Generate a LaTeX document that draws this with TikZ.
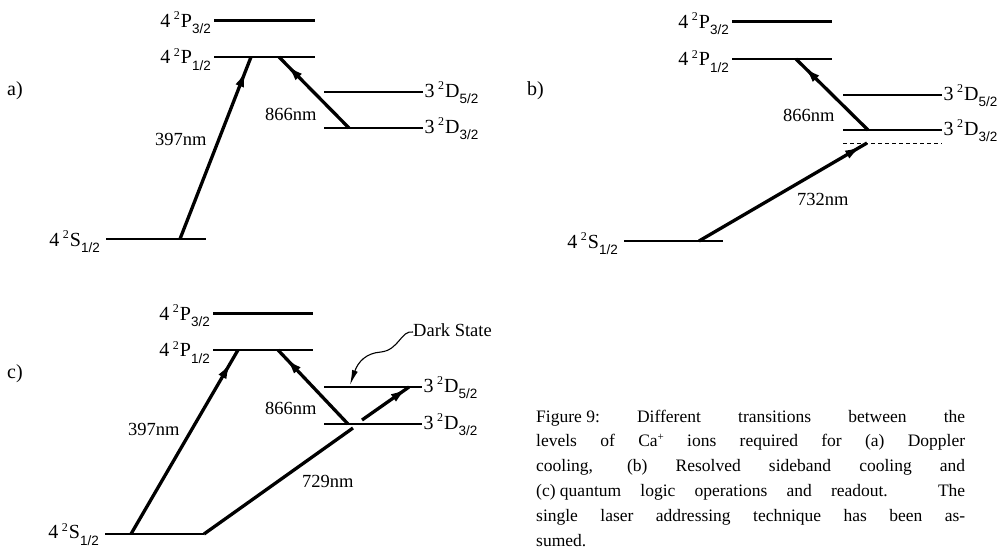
\documentclass[tikz,border=0pt]{standalone}
\usepackage{fontspec}
\setmainfont{Liberation Serif}
\newfontfamily\subfont{Liberation Sans}
\usetikzlibrary{arrows.meta,decorations.markings}
\newcommand\levlab[3]{{\fontsize{20}{20}\selectfont #1}\hspace{3.5pt}\raisebox{7.5pt}{\fontsize{12}{12}\selectfont 2}\hspace{1pt}{\fontsize{20}{20}\selectfont #2}\raisebox{-6.5pt}{\subfont\fontsize{13.5}{13.5}\selectfont #3}}
\begin{document}
\begin{tikzpicture}[x=1pt,y=-1pt,
  level/.style={line width=2.5pt},
  beam/.style={line width=3.3pt},
  tipped/.style={beam, postaction={decorate},
    decoration={markings, mark=at position #1 with {\arrow{Latex[length=17pt,width=9pt]}}}},
  tipped/.default=-10pt,
  lab/.style={inner sep=0pt, font=\fontsize{18.5}{18.5}\selectfont},
  plab/.style={lab, anchor=base east},
  dlab/.style={lab, anchor=base west},
  wlab/.style={lab, anchor=base west},
  letlab/.style={inner sep=0pt, anchor=base west, font=\fontsize{20}{20}\selectfont},
  dashlevel/.style={line width=1pt, dash pattern=on 4pt off 3pt}
]
\useasboundingbox (0,0) rectangle (1002,549);

% ---------------- panel a ----------------
\node[letlab] (alet) at (7,95) {a)};
\coordinate (aP3l) at (214,20.5); \coordinate (aP3r) at (315,20.5);
\coordinate (aP1l) at (214,57);   \coordinate (aP1r) at (315,57);
\coordinate (aD5l) at (324,92);   \coordinate (aD5r) at (423,92);
\coordinate (aD3l) at (324,128);  \coordinate (aD3r) at (423,128);
\coordinate (aSl)  at (106,239);  \coordinate (aSr)  at (206,239);
\draw[level] (aP3l) -- (aP3r);
\draw[level] (aP1l) -- (aP1r);
\draw[level] (aD5l) -- (aD5r);
\draw[level] (aD3l) -- (aD3r);
\draw[level] (aSl) -- (aSr);
\node[plab] (aP3t) at (211,27) {\levlab{4}{P}{3/2}};
\node[plab] (aP1t) at (211,63.5) {\levlab{4}{P}{1/2}};
\node[dlab] (aD5t) at (424.5,97) {\levlab{3}{D}{5/2}};
\node[dlab] (aD3t) at (424.5,133) {\levlab{3}{D}{3/2}};
\node[plab] (aSt) at (100,246) {\levlab{4}{S}{1/2}};
\coordinate (a397s) at (180,239); \coordinate (a397e) at (251,57);
\coordinate (a866s) at (349,128); \coordinate (a866e) at (279,57);
\draw[tipped=-14pt] (a397s) -- (a397e);
\draw[tipped=-11pt] (a866s) -- (a866e);
\node[wlab] (a397t) at (155,145) {397nm};
\node[wlab] (a866t) at (265,120) {866nm};

% ---------------- panel b ----------------
\node[letlab] (blet) at (527,95) {b)};
\coordinate (bP3l) at (732,21.5); \coordinate (bP3r) at (832,21.5);
\coordinate (bP1l) at (732,59);   \coordinate (bP1r) at (832,59);
\coordinate (bD5l) at (843,95);   \coordinate (bD5r) at (942,95);
\coordinate (bD3l) at (843,130);  \coordinate (bD3r) at (942,130);
\coordinate (bVl)  at (843,143);  \coordinate (bVr)  at (942,143);
\coordinate (bSl)  at (624,241);  \coordinate (bSr)  at (723,241);
\draw[level] (bP3l) -- (bP3r);
\draw[level] (bP1l) -- (bP1r);
\draw[level] (bD5l) -- (bD5r);
\draw[level] (bD3l) -- (bD3r);
\draw[dashlevel] (bVl) -- (bVr);
\draw[level] (bSl) -- (bSr);
\node[plab] (bP3t) at (729,28) {\levlab{4}{P}{3/2}};
\node[plab] (bP1t) at (729,65.5) {\levlab{4}{P}{1/2}};
\node[dlab] (bD5t) at (943.5,100) {\levlab{3}{D}{5/2}};
\node[dlab] (bD3t) at (943.5,135) {\levlab{3}{D}{3/2}};
\node[plab] (bSt) at (618,248) {\levlab{4}{S}{1/2}};
\coordinate (b866s) at (868,130); \coordinate (b866e) at (796,59);
\coordinate (b732s) at (699,241); \coordinate (b732e) at (867,143);
\draw[tipped=-11pt] (b866s) -- (b866e);
\draw[tipped=-6pt] (b732s) -- (b732e);
\node[wlab] (b866t) at (783,121) {866nm};
\node[wlab] (b732t) at (797,205) {732nm};

% ---------------- panel c ----------------
\node[letlab] (clet) at (7,378) {c)};
\coordinate (cP3l) at (213,313.5); \coordinate (cP3r) at (313,313.5);
\coordinate (cP1l) at (213,350);   \coordinate (cP1r) at (313,350);
\coordinate (cD5l) at (324,387);   \coordinate (cD5r) at (422,387);
\coordinate (cD3l) at (324,424);   \coordinate (cD3r) at (422,424);
\coordinate (cSl)  at (105,534);   \coordinate (cSr)  at (204,534);
\draw[level] (cP3l) -- (cP3r);
\draw[level] (cP1l) -- (cP1r);
\draw[level] (cD5l) -- (cD5r);
\draw[level] (cD3l) -- (cD3r);
\draw[level] (cSl) -- (cSr);
\node[plab] (cP3t) at (210,320) {\levlab{4}{P}{3/2}};
\node[plab] (cP1t) at (210,356.5) {\levlab{4}{P}{1/2}};
\node[dlab] (cD5t) at (423.5,392) {\levlab{3}{D}{5/2}};
\node[dlab] (cD3t) at (423.5,429) {\levlab{3}{D}{3/2}};
\node[plab] (cSt) at (99,538.5) {\levlab{4}{S}{1/2}};
\coordinate (c397s) at (131,534); \coordinate (c397e) at (238,350);
\coordinate (c866s) at (348,424); \coordinate (c866e) at (278,350);
\coordinate (c729s) at (204,534); \coordinate (c729e) at (353,428);
\coordinate (c729bs) at (362,420); \coordinate (c729be) at (409,387);
\draw[tipped=-14pt] (c397s) -- (c397e);
\draw[tipped=-11pt] (c866s) -- (c866e);
\draw[beam] (c729s) -- (c729e);
\draw[tipped=-2pt] (c729bs) -- (c729be);
\node[wlab] (c397t) at (128,435) {397nm};
\node[wlab] (c866t) at (265,414) {866nm};
\node[wlab] (c729t) at (302,487) {729nm};
\node[wlab] (dark) at (413,336) {Dark State};
\coordinate (darktip) at (350,385);
\draw[line width=1.1pt, -{Latex[length=15pt,width=6pt]}]
  (dark.base west) ++(0,-4) .. controls (401,330) and (399,350) .. (381,352)
  .. controls (366,353) and (358,362) .. (darktip);

% ---------------- caption ----------------
\node[anchor=base west, inner sep=0pt, font=\fontsize{17.5}{24.8}\selectfont] (cap) at (536,422)
{\parbox[t]{429pt}{%
\makebox[429pt][s]{\hbox{Figure 9:} Different transitions between the}\\
\makebox[429pt][s]{levels of Ca\raisebox{6.5pt}{\fontsize{11}{11}\selectfont +} ions required for (a) Doppler}\\
\makebox[429pt][s]{cooling, (b) Resolved sideband cooling and}\\
\makebox[429pt][s]{\hbox{(c) quantum} logic operations and readout. The}\\
\makebox[429pt][s]{single laser addressing technique has been as-}\\
sumed.}};
\end{tikzpicture}
\end{document}
